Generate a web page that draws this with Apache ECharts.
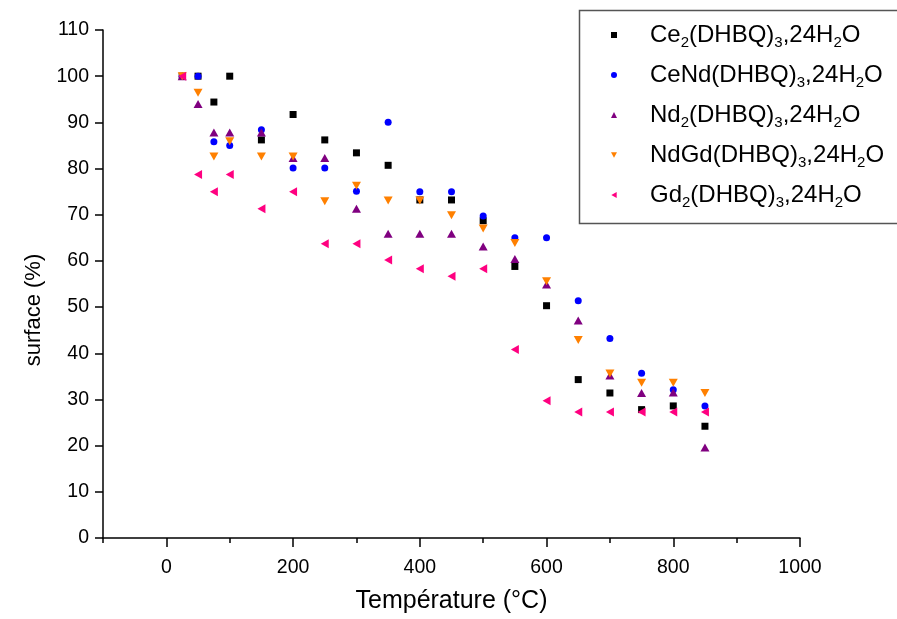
<!DOCTYPE html>
<html>
<head>
<meta charset="utf-8">
<script src="https://cdn.jsdelivr.net/npm/echarts@6/dist/echarts.min.js"></script>
<style>
  html, body { margin: 0; padding: 0; background: #fff; }
  #chart { width: 897px; height: 619px; }
</style>
</head>
<body>
<div id="chart"></div>
<script>
// temperatures (°C) shared by all samples
const temps = [25, 50, 75, 100, 150, 200, 250, 300, 350, 400, 450, 500, 550, 600, 650, 700, 750, 800, 850]

// surface (%) for each sample
const ce2 = [100, 100, 94.4, 100, 86.2, 91.7, 86.2, 83.4, 80.7, 73.2, 73.2, 68.7, 58.8, 50.3, 34.3, 31.4, 27.8, 28.6, 24.2]
const ceNd = [100, 100, 85.8, 85.0, 88.4, 80.1, 80.1, 75.1, 90.0, 75.0, 75.0, 69.7, 65.0, 65.0, 51.4, 43.2, 35.7, 32.1, 28.6]
const nd2 = [100, 94.0, 87.8, 87.8, 87.8, 82.3, 82.3, 71.3, 65.9, 65.9, 65.9, 63.1, 60.4, 54.9, 47.1, 35.2, 31.4, 31.5, 19.6]
const ndGd = [100, 96.4, 82.6, 85.9, 82.6, 82.6, 72.9, 76.3, 73.1, 73.1, 69.9, 67.0, 63.9, 55.6, 42.9, 35.6, 33.6, 33.6, 31.4]
const gd2 = [100, 78.7, 75.0, 78.7, 71.3, 75.0, 63.7, 63.7, 60.2, 58.3, 56.7, 58.3, 40.8, 29.7, 27.3, 27.3, 27.3, 27.3, 27.3]

const seriesNames = [
  'Ce2(DHBQ)3,24H2O',
  'CeNd(DHBQ)3,24H2O',
  'Nd2(DHBQ)3,24H2O',
  'NdGd(DHBQ)3,24H2O',
  'Gd2(DHBQ)3,24H2O',
]
const seriesValues = [ce2, ceNd, nd2, ndGd, gd2]

// tick labels
const xMajorTicks = [0, 200, 400, 600, 800, 1000]
const xMinorTicks = [-100, 100, 300, 500, 700, 900]

const colors = ['#000000', '#0000ff', '#800080', '#ff8000', '#ff0080']
const symbols = ['rect', 'circle', 'triangle', 'path://M0,0L10,0L5,9Z', 'path://M9,0L9,10L0,5Z']
const sizes = [7, 7, [9, 8], [9, 8], [8, 9]]

const font = 'Liberation Sans, Arial, sans-serif'

// digits after a letter or ")" are subscripts
function richName(n) {
  return '{m|' + n.replace(/([A-Za-z)])(\d)/g, '$1}{s|$2}{m|') + '}'
}

const chart = echarts.init(document.getElementById('chart'))

const series = seriesNames.map((name, i) => ({
  name: name,
  type: 'scatter',
  xAxisIndex: 0,
  symbol: symbols[i],
  symbolSize: sizes[i],
  itemStyle: { color: colors[i], opacity: 1 },
  data: temps.map((t, k) => [t, seriesValues[i][k]]),
}))

const axisLine = { show: true, onZero: false, lineStyle: { color: '#000', width: 1.5 } }

chart.setOption({
  animation: false,
  grid: { left: 103, right: 97, top: 30, bottom: 78 },
  legend: {
    orient: 'vertical',
    left: 611,
    top: 23,
    padding: 0,
    itemGap: 13,
    itemWidth: 6,
    itemHeight: 6,
    data: seriesNames.map((n, i) => ({ name: n, icon: symbols[i] })),
    formatter: richName,
    textStyle: {
      padding: [0, 0, 0, 28],
      rich: {
        m: { fontSize: 24, lineHeight: 30, fontFamily: font, color: '#000' },
        s: { fontSize: 15, lineHeight: 12, verticalAlign: 'bottom', fontFamily: font, color: '#000' },
      },
    },
  },
  graphic: [
    {
      type: 'rect',
      left: 577,
      top: 8,
      shape: { width: 330, height: 213 },
      style: { fill: 'none', stroke: '#555', lineWidth: 1.5 },
      z: 100,
    },
  ],
  xAxis: [
    {
      type: 'value',
      min: -100,
      max: 1000,
      interval: 100,
      name: 'Température (°C)',
      nameLocation: 'middle',
      nameGap: 51,
      nameTextStyle: { fontSize: 25, fontFamily: font, color: '#000' },
      axisLine: axisLine,
      axisTick: { show: true, inside: false, length: 9, customValues: xMajorTicks, lineStyle: { color: '#000', width: 1.5 } },
      axisLabel: {
        customValues: xMajorTicks,
        fontSize: 19.5,
        fontFamily: font,
        color: '#000',
        margin: 20,
        formatter: (v) => (v % 200 === 0 ? String(v) : ''),
      },
      splitLine: { show: false },
    },
    {
      type: 'value',
      min: -100,
      max: 1000,
      interval: 100,
      position: 'bottom',
      axisLine: { show: false },
      axisTick: { show: true, inside: false, length: 5, customValues: xMinorTicks, lineStyle: { color: '#000', width: 1.5 } },
      axisLabel: { show: false },
      splitLine: { show: false },
    },
  ],
  yAxis: {
    type: 'value',
    min: 0,
    max: 110,
    interval: 10,
    name: 'surface (%)',
    nameLocation: 'middle',
    nameGap: 58,
    nameTextStyle: { fontSize: 22, fontFamily: font, color: '#000', padding: [0, 52, 0, 0] },
    axisLine: axisLine,
    axisTick: { show: true, inside: false, length: 8, lineStyle: { color: '#000', width: 1.5 } },
    axisLabel: { fontSize: 19.5, fontFamily: font, color: '#000', margin: 14 },
    splitLine: { show: false },
  },
  series: series,
})
</script>
</body>
</html>
